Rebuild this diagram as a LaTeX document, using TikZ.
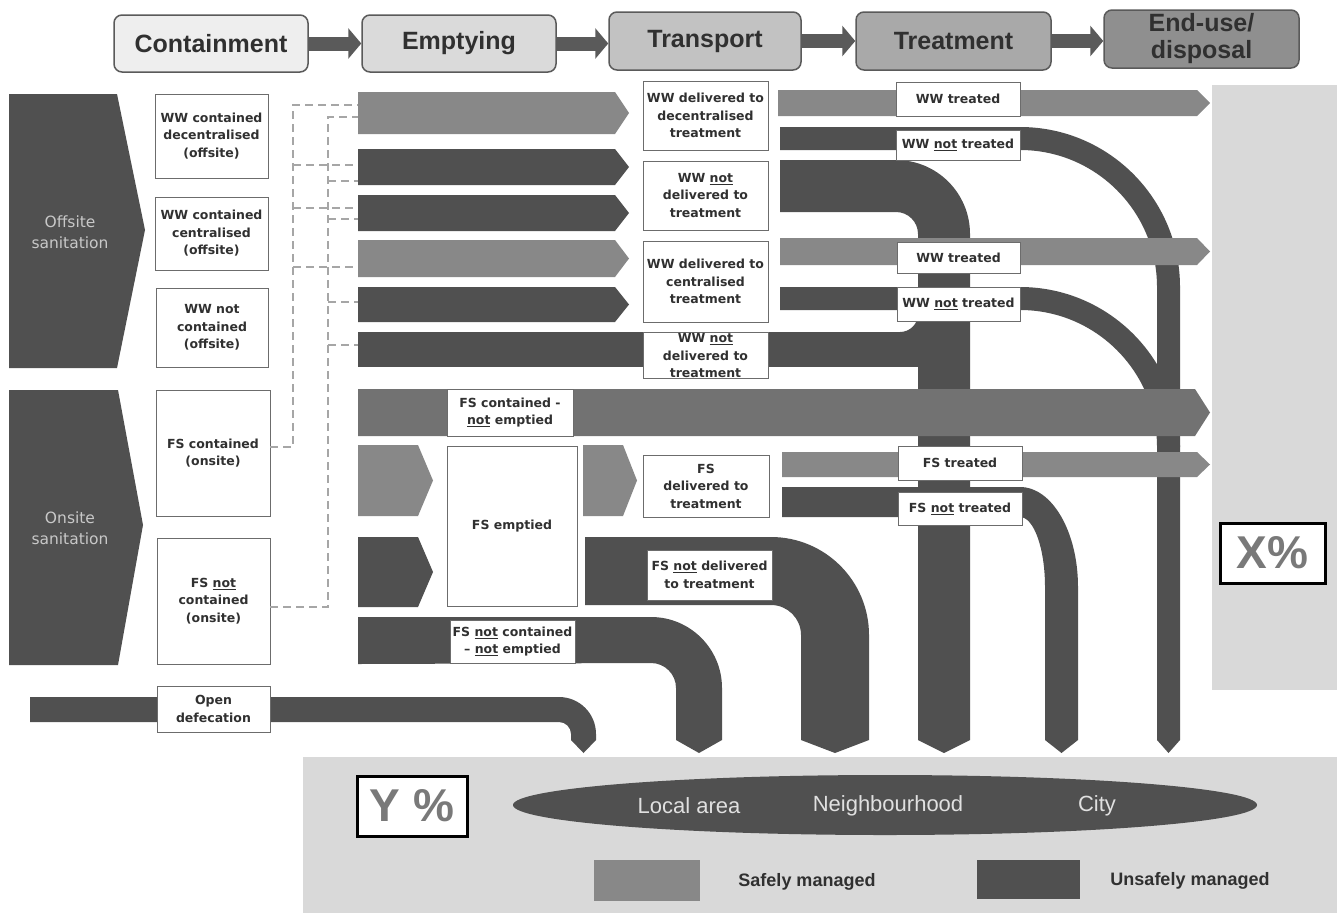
\documentclass[tikz,border=0pt]{standalone}
\usepackage{fontspec}
\setmainfont{Liberation Sans}
\newfontfamily\dvs{DejaVu Sans}
\usetikzlibrary{shapes.geometric,arrows.meta}
\definecolor{safe}{HTML}{888888}
\definecolor{safeB}{HTML}{727272}
\definecolor{unsafe}{HTML}{505050}
\definecolor{panel}{HTML}{D9D9D9}
\definecolor{txt}{HTML}{303030}
\definecolor{dashc}{HTML}{A6A6A6}
\definecolor{hA}{HTML}{EEEEEE}
\definecolor{hB}{HTML}{DADADA}
\definecolor{hC}{HTML}{C2C2C2}
\definecolor{hD}{HTML}{A9A9A9}
\definecolor{hE}{HTML}{8F8F8F}
\definecolor{harrc}{HTML}{5A5A5A}
\definecolor{sidetxt}{HTML}{C8C8C8}
\newcommand\lbox[6]{\node[lbl, minimum width={#4-#2}, minimum height={#5-#3}] (#1) at ({(#2+#4)/2},{(#3+#5)/2}) {#6};}
\newcommand\hdrbox[7]{\node[hdr, fill=#7, minimum width={#4-#2}, minimum height={#5-#3}] (#1) at ({(#2+#4)/2},{(#3+#5)/2}) {#6};}
\newcommand\abar[6]{\fill[#6] (#1,#2) -- ({#3-#5},#2) -- (#3,{(#2+#4)/2}) -- ({#3-#5},#4) -- (#1,#4) -- cycle;}
\begin{document}
\begin{tikzpicture}[x=1pt,y=-1pt,
  lbl/.style={draw=gray!85!black, line width=0.9pt, fill=white, inner sep=0pt, align=center, text=txt,
     font=\dvs\bfseries\fontsize{12.5}{17.5}\selectfont},
  lblt/.style={inner sep=0pt, align=center, text=txt, font=\dvs\bfseries\fontsize{12.5}{17.5}\selectfont},
  hdr/.style={draw=harrc, line width=1.5pt, rounded corners=8pt, inner sep=0pt, align=center, text=txt,
     font=\bfseries\fontsize{25}{27}\selectfont},
  harr/.style={draw=harrc, line width=14pt, -{Triangle[length=13pt,width=30pt]}},
  side/.style={align=center, text=sidetxt, font=\dvs\fontsize{15.5}{21}\selectfont},
  dsh/.style={draw=dashc, line width=1.8pt, dash pattern=on 8pt off 5pt},
  pct/.style={draw=black, line width=3pt, fill=white, inner sep=0pt, text=gray!95!black, font=\bfseries\fontsize{46}{50}\selectfont},
  scl/.style={text=white!88!black, font=\fontsize{22}{24}\selectfont},
  leg/.style={text=txt, font=\bfseries\fontsize{18}{20}\selectfont}]
\useasboundingbox (0,0) rectangle (1337,913);
\fill[white] (0,0) rectangle (1337,913);
% panels
\fill[panel] (1212,85) rectangle (1337,690);
\fill[panel] (303,757) rectangle (1337,913);
% header
\hdrbox{cont}{114}{15}{308}{72}{Containment}{hA}
\hdrbox{empt}{362}{15}{556}{72}{Emptying}{hB}
\hdrbox{trans}{609}{12}{801}{70}{Transport}{hC}
\hdrbox{treat}{856}{12}{1051}{70}{Treatment}{hD}
\hdrbox{endu}{1104}{10}{1299}{68}{End-use/\\disposal}{hE}
\draw[harr] (cont.east) -- (empt.west);
\draw[harr] (empt.east) -- (empt.east -| trans.west);
\draw[harr] (trans.east) -- (treat.west);
\draw[harr] (treat.east) -- (treat.east -| endu.west);
% side chevrons
\fill[unsafe] (9,94) -- (117,94) -- (145,230) -- (117,368) -- (9,368) -- cycle;
\node[side] (offs) at (70,232) {Offsite\\sanitation};
\fill[unsafe] (9,390) -- (118,390) -- (143,525) -- (118,665) -- (9,665) -- cycle;
\node[side] (ons) at (70,528) {Onsite\\sanitation};
% containment boxes
\lbox{wwdec}{155}{94}{268}{178}{WW contained\\decentralised\\(offsite)}
\lbox{wwcen}{155}{197}{268}{270}{WW contained\\centralised\\(offsite)}
\lbox{wwnc}{156}{288}{268}{367}{WW not\\contained\\(offsite)}
\lbox{fsc}{156}{390}{270}{516}{FS contained\\(onsite)}
\lbox{fsnc}{157}{538}{270}{664}{FS \underline{not}\\contained\\(onsite)}
% dashed connectors
\coordinate (e1) at (358,105); \coordinate (e1b) at (358,117);
\coordinate (e2) at (358,165); \coordinate (e2b) at (358,181);
\coordinate (e3) at (358,208); \coordinate (e3b) at (358,219);
\coordinate (e4) at (358,267); \coordinate (e5b) at (358,302);
\coordinate (e6b) at (358,345);
\draw[dsh] ([yshift=6pt]fsc.east) -- (293,447) -- (293,105) -- (e1);
\draw[dsh] (293,165) -- (e2);
\draw[dsh] (293,208) -- (e3);
\draw[dsh] (293,267) -- (e4);
\draw[dsh] ([yshift=-6pt]fsnc.east) -- (328,607) -- (328,117) -- (e1b);
\draw[dsh] (328,181) -- (e2b);
\draw[dsh] (328,219) -- (e3b);
\draw[dsh] (328,302) -- (e5b);
\draw[dsh] (328,345) -- (e6b);
% emptying bars
\abar{358}{92}{629}{134}{14}{safe}
\abar{358}{149}{629}{185}{14}{unsafe}
\abar{358}{195}{629}{231}{14}{unsafe}
\abar{358}{240}{629}{277}{14}{safe}
\abar{358}{287}{629}{322}{14}{unsafe}
\fill[unsafe] (358,332) rectangle (930,367);
\fill[unsafe] (918,314) -- (918,332) -- (900,332) arc[start angle=90,end angle=0,radius=18] -- cycle;
\abar{358}{445}{433}{516}{15}{safe}
\abar{358}{537}{433}{607}{15}{unsafe}
\abar{583}{445}{637}{516}{14}{safe}
% bends and verticals
\fill[unsafe] (780,160) -- (896,160) arc[start angle=-90,end angle=0,radius=74] -- (970,740) -- (944,753) -- (918,740) -- (918,234) arc[start angle=0,end angle=-90,radius=22] -- (780,212) -- cycle;
\fill[unsafe] (585,537) -- (771,537) arc[start angle=-90,end angle=0,radius=98] -- (869,740) -- (835,753) -- (801,740) -- (801,635) arc[start angle=0,end angle=-90,radius=30] -- (585,605) -- cycle;
\fill[unsafe] (358,617) -- (651,617) arc[start angle=-90,end angle=0,radius=71] -- (722,740) -- (699,753) -- (676,740) -- (676,688) arc[start angle=0,end angle=-90,radius=25] -- (358,664) -- cycle;
\fill[unsafe] (30,697) -- (559,697) arc[start angle=-90,end angle=0,radius=37] -- (596,740) -- (583.5,753) -- (571,740) -- (571,734) arc[start angle=0,end angle=-90,radius=12] -- (30,722) -- cycle;
\fill[unsafe] (780,127) -- (1020,127) arc[start angle=-90,end angle=0,radius=160] -- (1157,287) arc[start angle=0,end angle=-90,radius=137] -- (780,150) -- cycle;
\fill[unsafe] (780,287) -- (1020,287) arc[start angle=-90,end angle=0,radius=160] -- (1157,447) arc[start angle=0,end angle=-90,radius=137] -- (780,310) -- cycle;
\fill[unsafe] (1157,287) -- (1180,287) -- (1180,740) -- (1168.5,753) -- (1157,740) -- cycle;
\fill[unsafe] (782,487) -- (1020,487) arc[start angle=-90,end angle=0,x radius=58,y radius=100] -- (1078,740) -- (1061.5,753) -- (1045,740) -- (1045,587) arc[start angle=0,end angle=-90,x radius=25,y radius=70] -- (782,517) -- cycle;
% long safe bars on top
\abar{778}{90}{1210}{116}{13}{safe}
\abar{780}{238}{1210}{265}{13}{safe}
\abar{358}{389}{1210}{436}{15}{safeB}
\abar{782}{452}{1210}{477}{13}{safe}
% open defecation label
\lbox{od}{157}{686}{270}{732}{Open\\defecation}
% transport labels
\lbox{t1}{643}{81}{768}{150}{WW delivered to\\decentralised\\treatment}
\lbox{t2}{643}{161}{768}{230}{WW \underline{not}\\delivered to\\treatment}
\lbox{t3}{643}{241}{768}{322}{WW delivered to\\centralised\\treatment}
\node[lbl, minimum width=125, minimum height=46] (t4) at (705.5,355) {};
\begin{scope}
\clip (640,330) rectangle (772,377.5);
\node[lblt, anchor=north] (t4txt) at (705.5,333.5) {WW \underline{not}\\delivered to\\treatment};
\end{scope}
\lbox{fscne}{447}{389}{573}{436}{FS contained -\\\underline{not} emptied}
\lbox{fse}{447}{446}{577}{606}{FS emptied}
\lbox{fsdt}{643}{455}{769}{517}{FS\\delivered to\\treatment}
\lbox{fsndt}{647}{550}{772}{600}{FS \underline{not} delivered\\to treatment}
\lbox{fsncne}{450}{620}{575}{663}{FS \underline{not} contained\\– \underline{not} emptied}
% treatment labels
\lbox{wwt1}{896}{82}{1020}{116}{WW treated}
\lbox{wwnt1}{896}{130}{1020}{160}{WW \underline{not} treated}
\lbox{wwt2}{897}{242}{1020}{273}{WW treated}
\lbox{wwnt2}{897}{287}{1020}{321}{WW \underline{not} treated}
\lbox{fst}{898}{446}{1022}{480}{FS treated}
\lbox{fsnt}{898}{492}{1022}{525}{FS \underline{not} treated}
% percentages
\node[pct, minimum width=105, minimum height=60] (xp) at (1272.5,553) {X\%};
\node[pct, minimum width=110, minimum height=60] (yp) at (412,806) {Y \%};
% scale ellipse
\node[ellipse, fill=unsafe, minimum width=744, minimum height=60, inner sep=0pt] (scale) at (885,805) {};
\node[scl] (loc) at (689,806) {Local area};
\node[scl] (nbh) at (888,806) {Neighbourhood};
\node[scl] (city) at (1097,806) {City};
% legend
\fill[safe] (594,860) rectangle (700,901);
\node[leg] (sm) at (807,882) {Safely managed};
\fill[unsafe] (977,860) rectangle (1080,899);
\node[leg] (um) at (1190,881) {Unsafely managed};
\end{tikzpicture}
\end{document}
